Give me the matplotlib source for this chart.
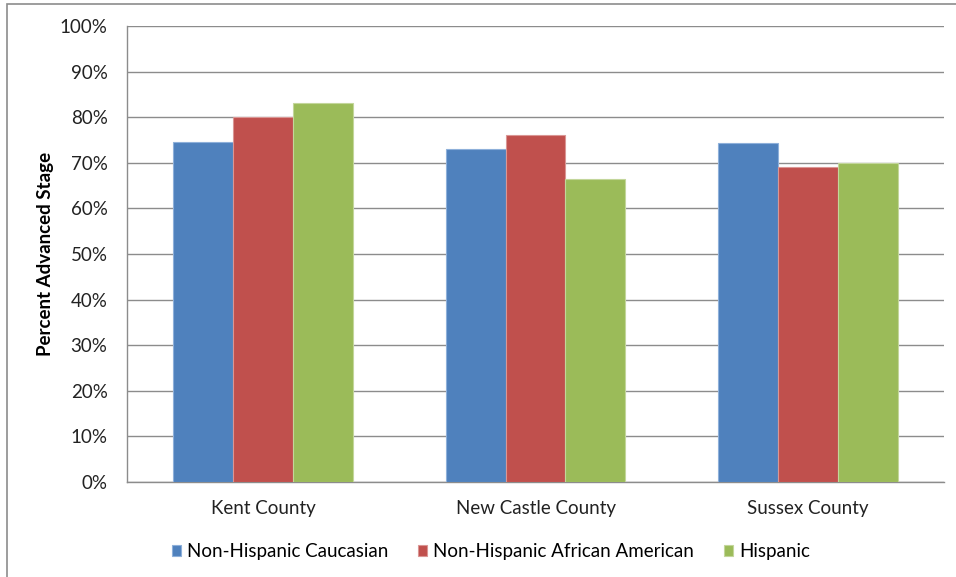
import matplotlib

matplotlib.use("Agg")
import matplotlib.pyplot as plt
import numpy as np
from matplotlib.patches import Rectangle
from matplotlib.ticker import PercentFormatter

counties = ["Kent County", "New Castle County", "Sussex County"]
series_names = ["Non-Hispanic Caucasian", "Non-Hispanic African American", "Hispanic"]
caucasian = [74.6, 73.0, 74.3]
african_american = [80.1, 76.2, 69.0]
hispanic = [83.2, 66.4, 69.9]
y_ticks = [0, 10, 20, 30, 40, 50, 60, 70, 80, 90, 100]

colors = ["#4F81BD", "#C0504D", "#9BBB59"]
edges = ["#8EB0DA", "#DA9694", "#C3D69B"]

plt.rcParams["font.family"] = ["Lato", "DejaVu Sans"]

fig = plt.figure(figsize=(9.56, 5.77), dpi=100)
ax = fig.add_axes([127 / 956, 1 - 482 / 577, (944 - 127) / 956, (482 - 26) / 577])

# outer chart border (only top and left visible in the reference)
fig.patches.append(Rectangle((7 / 956, -0.05), 1.2, 1 - 4 / 577 + 0.05,
                             transform=fig.transFigure, fill=False,
                             edgecolor="#8c8c8c", linewidth=1.2))

x = np.arange(len(counties))
w = 0.22
for i, (vals, name) in enumerate(zip([caucasian, african_american, hispanic], series_names)):
    ax.bar(x + (i - 1) * w, vals, w, color=colors[i], edgecolor=edges[i],
           linewidth=0.8, label=name, zorder=3)

ax.set_xlim(-0.5, len(counties) - 0.5)
ax.set_ylim(0, 100)
ax.set_yticks(y_ticks)
ax.yaxis.set_major_formatter(PercentFormatter(decimals=0))
ax.set_xticks(x)
ax.set_xticklabels(counties)
ax.tick_params(axis="both", length=0, labelsize=13.5, colors="#222222")
ax.tick_params(axis="y", pad=14)
ax.tick_params(axis="x", pad=13)
ax.grid(axis="y", color="#8c8c8c", linewidth=1, zorder=0)
for s in ["top", "right"]:
    ax.spines[s].set_visible(False)
for s in ["left", "bottom"]:
    ax.spines[s].set_color("#8c8c8c")
    ax.spines[s].set_linewidth(1)
ax.set_ylabel("Percent Advanced Stage", fontsize=13.5, fontweight="bold", labelpad=4)

ax.legend(loc="upper center", bbox_to_anchor=(0.445, -0.097), ncol=3, frameon=False,
          fontsize=13.5, handlelength=0.5, handleheight=0.5, handletextpad=0.3,
          columnspacing=1.6)

fig.savefig("out.png", dpi=100)
